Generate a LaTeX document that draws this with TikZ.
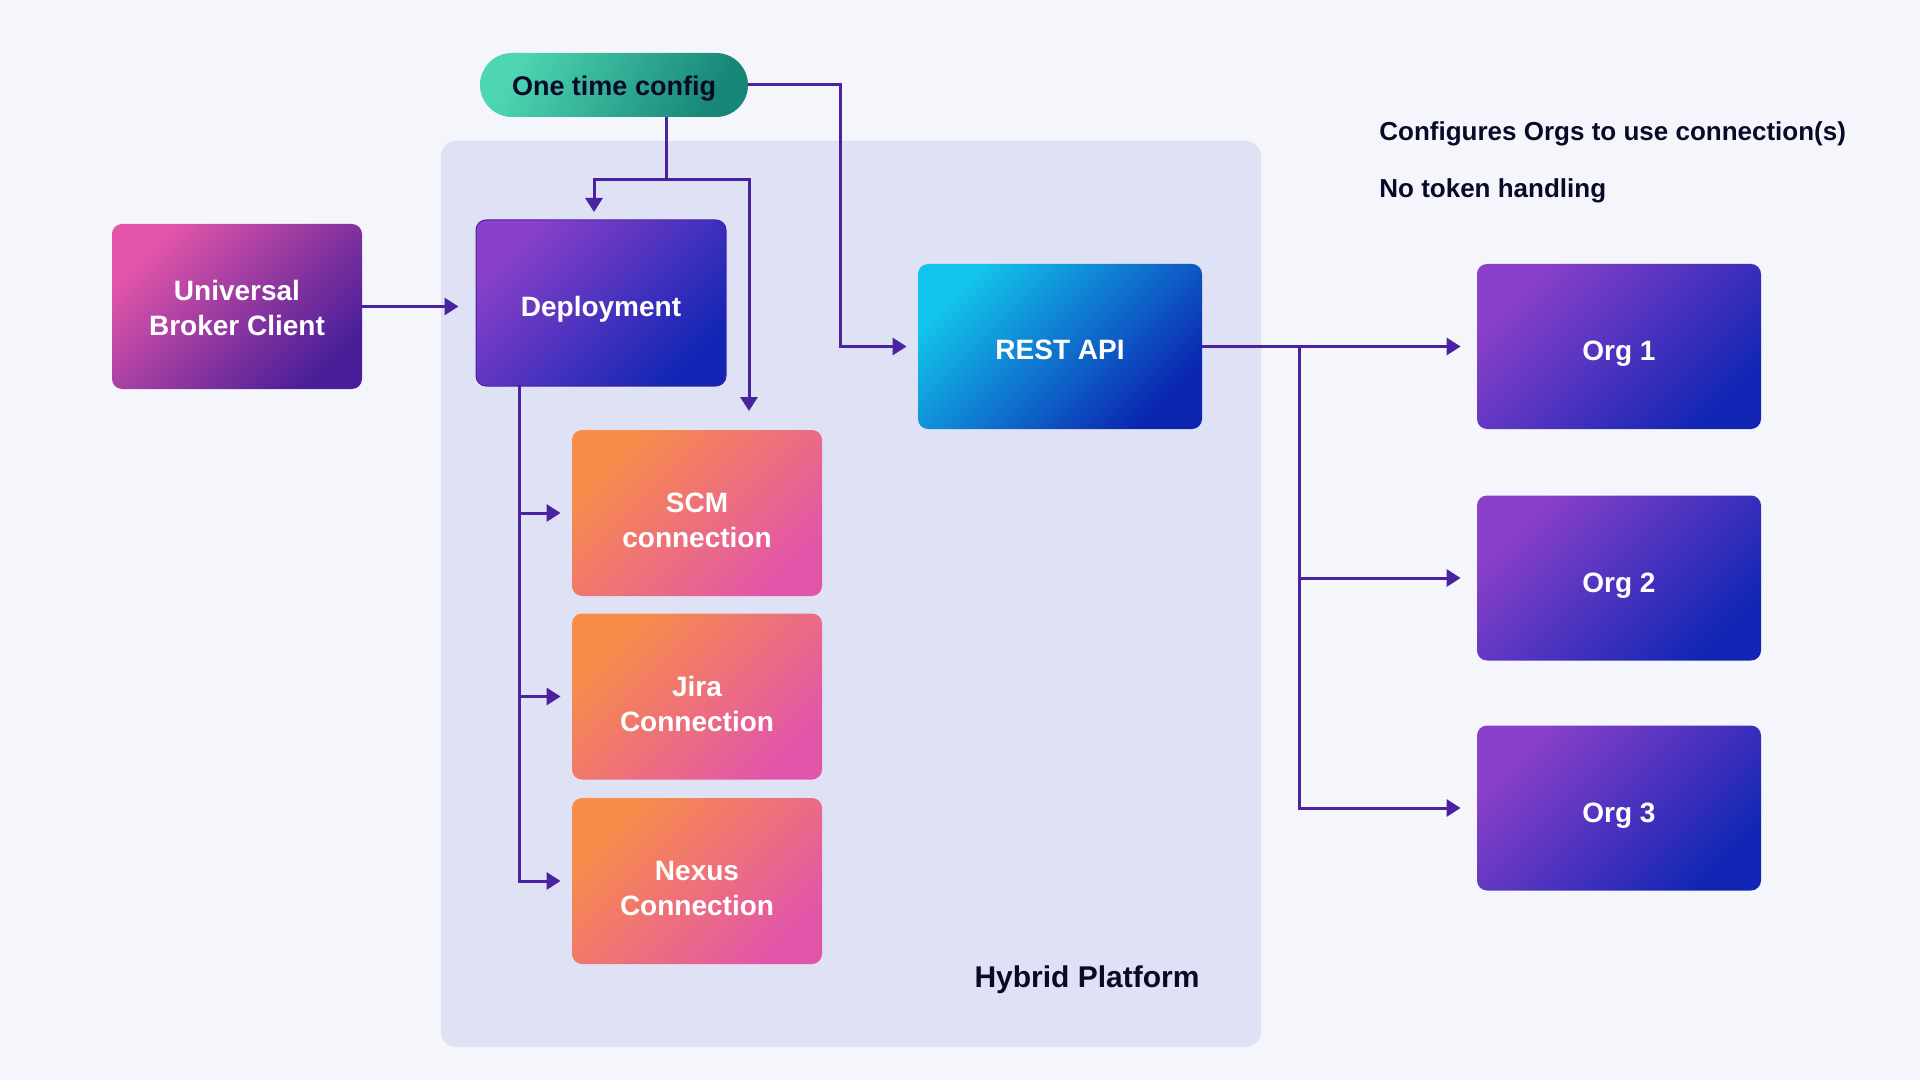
\documentclass[tikz,border=0pt]{standalone}
\usepackage{fontspec}
\setmainfont{Liberation Sans}
\usetikzlibrary{arrows.meta}
\definecolor{bgc}{HTML}{F5F6FB}
\definecolor{panelc}{HTML}{DFE2F4}
\definecolor{linec}{HTML}{4B22A0}
\definecolor{darktext}{HTML}{0A0A28}
\definecolor{pillA}{HTML}{4ED6B2}
\definecolor{pillB}{HTML}{178577}
\definecolor{ubcA}{HTML}{E255A9}
\definecolor{ubcB}{HTML}{4A1E98}
\definecolor{purA}{HTML}{8B40C9}
\definecolor{purB}{HTML}{1126B4}
\definecolor{restA}{HTML}{13C4EC}
\definecolor{restB}{HTML}{0B25B0}
\definecolor{orA}{HTML}{F98D47}
\definecolor{orB}{HTML}{E256AA}
\tikzset{
  boxtext/.style={text=white, font=\bfseries\fontsize{14pt}{17.5pt}\selectfont, align=center},
  card/.style={rounded corners=5pt, inner sep=0pt},
  ubcbox/.style={card, minimum width=125pt, minimum height=82.5pt, top color=ubcA, bottom color=ubcB, shading angle=45},
  purbox/.style={card, minimum width=142pt, minimum height=82.5pt, top color=purA, bottom color=purB, shading angle=45},
  depbox/.style={card, minimum width=125pt, minimum height=83pt, top color=purA, bottom color=purB, shading angle=45, draw=linec, line width=0.5pt},
  restbox/.style={card, minimum width=142pt, minimum height=82.5pt, top color=restA, bottom color=restB, shading angle=45},
  conbox/.style={card, minimum width=125pt, minimum height=83pt, top color=orA, bottom color=orB, shading angle=45},
  pillbox/.style={rounded corners=16pt, minimum width=134pt, minimum height=32pt, inner sep=0pt, top color=pillA, bottom color=pillB, shading angle=60},
  pilltext/.style={text=darktext, font=\bfseries\fontsize{13.5pt}{16pt}\selectfont},
  conn/.style={draw=linec, line width=1.5pt, -{Triangle[length=7pt,width=8.5pt]}},
  plain/.style={draw=linec, line width=1.5pt},
  note/.style={text=darktext, font=\bfseries\fontsize{13pt}{16pt}\selectfont, anchor=west, inner sep=0pt},
}
\begin{document}
\begin{tikzpicture}[x=0.5pt,y=-0.5pt]
\fill[bgc] (0,0) rectangle (1920,1080);
\useasboundingbox (0,0) rectangle (1920,1080);
\fill[panelc, rounded corners=7.5pt] (441,141) rectangle (1261,1047);
\node[text=darktext, font=\bfseries\fontsize{15pt}{18pt}\selectfont, inner sep=0pt] (hp) at (1087,979.5) {Hybrid Platform};

\node[pillbox, label={[pilltext, name=otc-t, yshift=-1.8pt]center:{One time config}}] (otc) at (614,85) {};
\node[ubcbox, label={[boxtext, name=ubc-t, yshift=-0.5pt]center:{Universal\\Broker Client}}] (ubc) at (237,306.5) {};
\node[depbox, label={[boxtext, name=dep-t, yshift=-3pt]center:{Deployment}}] (dep) at (601,303) {};
\node[restbox, label={[boxtext, name=rest-t, yshift=-1.8pt]center:{REST API}}] (rest) at (1060,346.5) {};
\node[conbox, label={[boxtext, name=scm-t, yshift=-3.7pt]center:{SCM\\connection}}] (scm) at (697,513) {};
\node[conbox, label={[boxtext, name=jira-t, yshift=-3.7pt]center:{Jira\\Connection}}] (jira) at (697,696.5) {};
\node[conbox, label={[boxtext, name=nexus-t, yshift=-3.7pt]center:{Nexus\\Connection}}] (nexus) at (697,881) {};
\node[purbox, label={[boxtext, name=org1-t, yshift=-3.7pt]center:{Org 1}}] (org1) at (1619,346.5) {};
\node[purbox, label={[boxtext, name=org2-t, yshift=-3.7pt]center:{Org 2}}] (org2) at (1619,578) {};
\node[purbox, label={[boxtext, name=org3-t, yshift=-3.7pt]center:{Org 3}}] (org3) at (1619,808) {};

\node[note] (n1) at (1379,133.5) {Configures Orgs to use connection(s)};
\node[note] (n2) at (1379,190.5) {No token handling};

\coordinate (split) at (666,180);
\coordinate (depIn) at (594,220);
\coordinate (scmIn) at (749,430);
\coordinate (cfgTurn) at (840,85);
\coordinate (orgBus) at (1299,346.5);
\coordinate (trunk) at (519,385);

% UBC -> Deployment
\draw[conn, shorten >=8.5pt] (ubc.east) -- (ubc.east -| dep.west);
% One time config -> Deployment / SCM
\draw[plain] (otc.south -| split) -- (split);
\draw[conn, shorten >=4pt] (split) -| (depIn);
\draw[conn, shorten >=9.5pt] (split) -| (scmIn);
% One time config -> REST API
\draw[conn, shorten >=5.5pt] (otc.east) -- (cfgTurn) |- (rest.west);
% REST API -> Orgs
\draw[conn, shorten >=8pt] (rest.east) -- (org1.west);
\draw[conn, shorten >=8pt] (orgBus) |- (org2.west);
\draw[conn, shorten >=8pt] (orgBus) |- (org3.west);
% Deployment -> connections
\draw[conn, shorten >=5.5pt] (trunk) |- (scm.west);
\draw[conn, shorten >=5.5pt] (trunk) |- (jira.west);
\draw[conn, shorten >=5.5pt] (trunk) |- (nexus.west);
\end{tikzpicture}
\end{document}
